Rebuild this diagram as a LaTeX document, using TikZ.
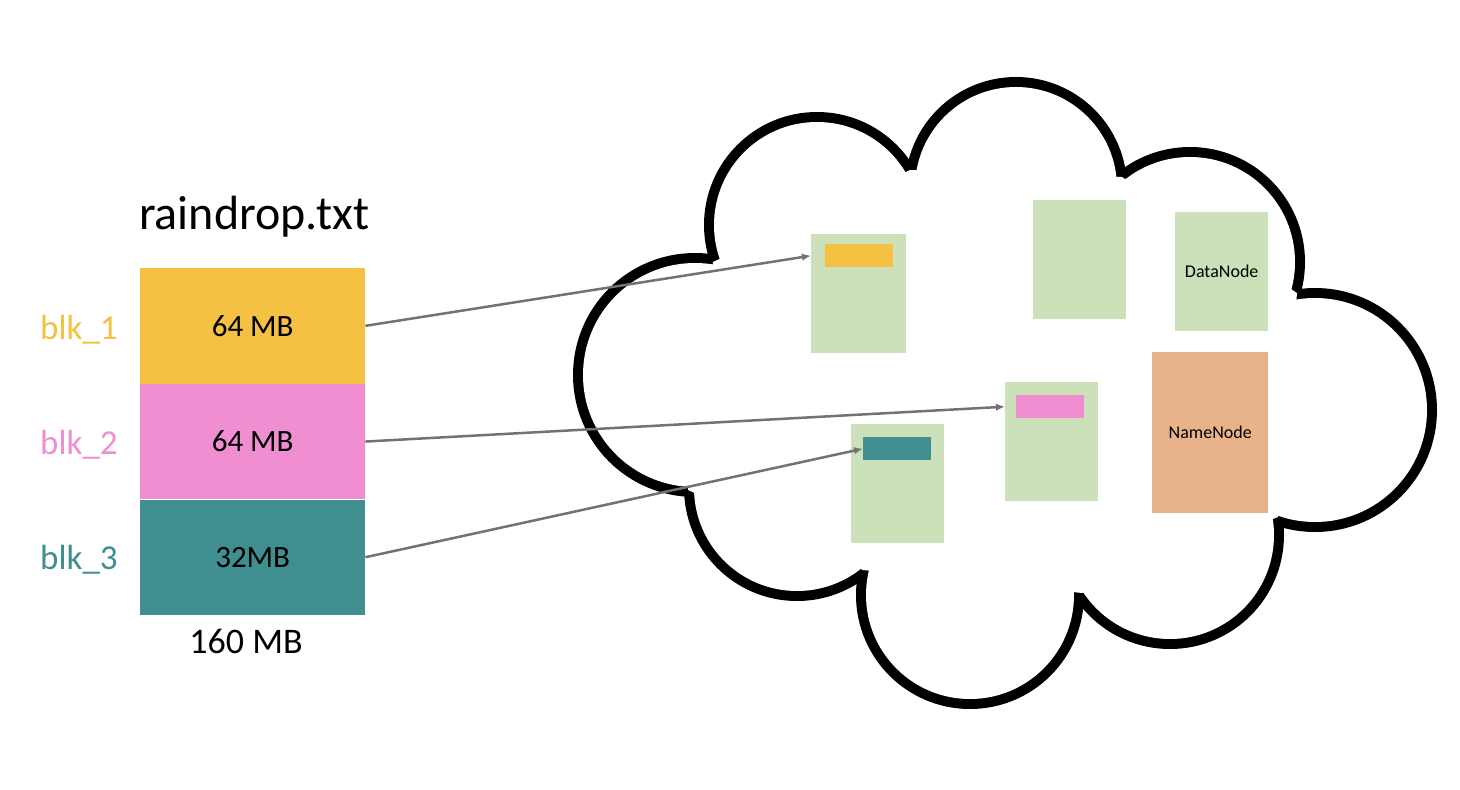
\documentclass[tikz,border=0pt]{standalone}
\usepackage{fontspec}
\setmainfont{Carlito}
\usetikzlibrary{arrows.meta,calc}
\definecolor{blkyellow}{HTML}{F4C142}
\definecolor{blkpink}{HTML}{EF8FD2}
\definecolor{blkteal}{HTML}{3F8F90}
\definecolor{dngreen}{HTML}{CCE0BA}
\definecolor{nnorange}{HTML}{E8B38B}
\definecolor{linkgray}{HTML}{767171}

\begin{document}
\begin{tikzpicture}[x=1pt,y=-1pt,
  block/.style={fill=#1, minimum width=225pt, minimum height=115.3pt,
    inner sep=0pt, anchor=north west, font=\fontsize{31}{36}\selectfont},
  blklabel/.style={text=#1, anchor=base west, inner sep=0pt,
    font=\fontsize{35}{40}\selectfont},
  server/.style={fill=#1, inner sep=0pt, anchor=north west,
    font=\fontsize{18}{22}\selectfont},
  chunk/.style={fill=#1, inner sep=0pt, anchor=north west,
    minimum width=68pt, minimum height=23pt},
  link/.style={draw=linkgray, line width=2.5pt,
    -{Latex[length=9pt,width=7.5pt]}},
  cloudline/.style={line width=20pt, draw=black},
]
\useasboundingbox[fill=white] (0,0) rectangle (1460,790);

% ---------- cloud: union of circular bumps with a common outline ----------
\def\bumps{817/225/108, 1016/188/106, 1190/262/110, 1315/410/117,
           1170/535/109, 970/595/109, 797/488/108, 695/375/117}
\foreach \cx/\cy/\r in \bumps
  \draw[cloudline] (\cx,\cy) circle[radius=\r-5];
\fill[white] (713,262) -- (910,170) -- (1122,177) -- (1297,293)
  -- (1278,517) -- (1082,593) -- (863,570) -- (688,490) -- cycle;
\foreach \cx/\cy/\r in \bumps
  \fill[white] (\cx,\cy) circle[radius=\r-5];

% ---------- the file and its blocks ----------
\node[anchor=base west, inner sep=0pt, font=\fontsize{48}{56}\selectfont]
  (fname) at (139,229) {raindrop.txt};
\node[block=blkyellow] (b1) at (140,268) {64 MB};
\node[block=blkpink]   (b2) at (b1.south west) {64 MB};
\node[block=blkteal]   (b3) at (b2.south west) {32MB};
\node[anchor=base, inner sep=0pt, font=\fontsize{36}{42}\selectfont]
  (total) at (246,653) {160 MB};

\node[blklabel=blkyellow] (l1) at (40,339) {blk\_1};
\node[blklabel=blkpink]   (l2) at (40,454) {blk\_2};
\node[blklabel=blkteal]   (l3) at (40,569) {blk\_3};

% ---------- cluster nodes ----------
\node[server=dngreen, minimum width=95pt, minimum height=119pt] (g1) at (811,234) {};
\node[server=dngreen, minimum width=93pt, minimum height=119pt] (g2) at (1033,200) {};
\node[server=dngreen, minimum width=93pt, minimum height=119pt] (g3) at (1175,212) {DataNode};
\node[server=dngreen, minimum width=93pt, minimum height=119pt] (g4) at (1005,382) {};
\node[server=dngreen, minimum width=93pt, minimum height=119pt] (g5) at (851,424) {};
\node[server=nnorange, minimum width=116pt, minimum height=161pt] (nn) at (1152,352) {NameNode};

\node[chunk=blkyellow] (d1) at (825,244) {};
\node[chunk=blkpink]   (d2) at (1016,395) {};
\node[chunk=blkteal]   (d3) at (863,437) {};

% ---------- block placement ----------
\draw[link] (b1.east) -- (g1.west |- d1.west);
\draw[link] (b2.east) -- (g4.west |- d2.west);
\draw[link] (b3.east) -- (d3.west);
\end{tikzpicture}
\end{document}
